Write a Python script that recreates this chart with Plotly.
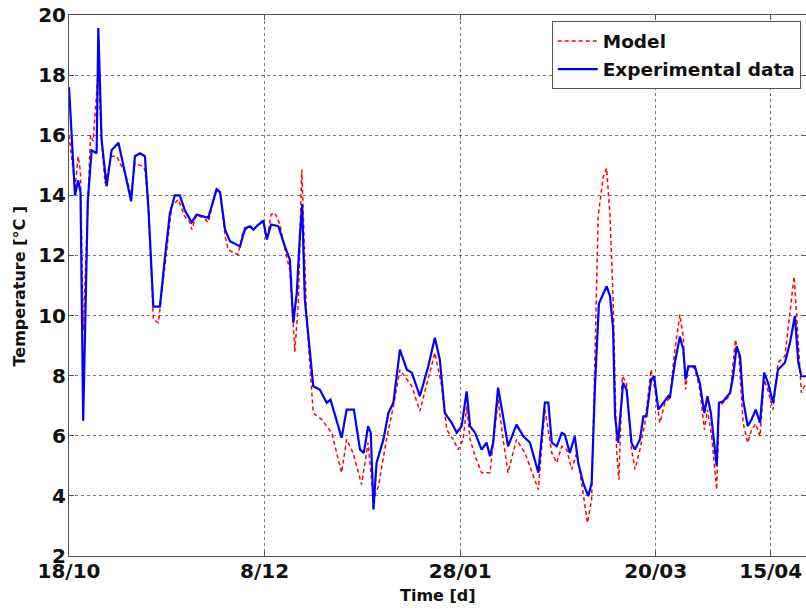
import plotly.graph_objects as go

# ---- data ----
days_exp = [0, 1.56, 2.4, 3.0, 3.7, 4.9, 5.9, 7.2, 7.65, 8.5, 9.8, 11.1, 12.9, 14.6, 16.2, 17.2,
            18.5, 19.8, 20.7, 22.0, 23.7, 25.0, 26.3, 27.6, 28.9, 30.2, 31.6, 32.0, 33.3, 35.0,
            36.3, 38.5, 39.4, 40.7, 42.0, 43.7, 44.6, 45.9, 47.2, 48.1, 49.4, 50.7, 51.6, 52.7,
            54.6, 56.3, 57.6, 58.5, 59.4, 60.2, 60.8, 61.5, 62.8, 63.7, 65.4, 67.2, 68.2, 69.4,
            71.1, 72.4, 74.3, 75.9, 76.9, 78.0, 78.7, 79.4, 80.2, 82.0, 83.3, 84.6, 86.3, 88.1,
            89.4, 91.5, 93.7, 95.4, 96.7, 98.0, 99.8, 101.1, 102.4, 103.7, 104.6, 105.9, 107.6,
            108.9, 109.8, 110.6, 111.9, 113.2, 114.5, 116.7, 118.5, 120.2, 122.0, 122.4, 124.1,
            125.0, 125.9, 127.2, 128.5, 129.3, 130.6, 131.9, 132.8, 134.1, 135.4, 136.3, 137.2,
            138.2, 140.2, 141.1, 141.9, 142.4, 143.2, 144.5, 145.4, 146.7, 147.6, 148.9, 149.8,
            150.6, 151.8, 152.6, 153.7, 155.0, 156.3, 156.7, 158.0, 159.3, 160.2, 160.8, 161.5,
            163.2, 164.5, 165.7, 166.5, 167.4, 168.9, 169.5, 170.6, 172.4, 173.2, 174.1, 175.0,
            175.8, 177.0, 178.0, 179.1, 180.2, 181.3, 182.3, 183.6, 184.9, 186.7, 188.0, 189.3,
            190.2, 191.0, 192.2]
temp_exp = [17.6, 14.0, 14.5, 14.1, 6.5, 13.8, 15.5, 15.4, 19.57, 15.85, 14.3, 15.5, 15.75, 14.75,
            13.8, 15.3, 15.4, 15.3, 13.6, 10.3, 10.3, 11.9, 13.4, 14.0, 14.0, 13.5, 13.2, 13.1,
            13.36, 13.3, 13.25, 14.2, 14.1, 12.86, 12.47, 12.36, 12.3, 12.9, 12.97, 12.86, 13.03,
            13.14, 12.53, 13.03, 12.97, 12.3, 11.86, 9.76, 10.76, 12.64, 13.7, 10.53, 8.87, 7.65,
            7.54, 7.1, 7.2, 6.7, 5.93, 6.87, 6.87, 5.54, 5.43, 6.32, 6.1, 3.55, 5.1, 5.88, 6.76,
            7.1, 8.87, 8.2, 8.1, 7.32, 8.31, 9.26, 8.54, 6.76, 6.43, 6.1, 6.32, 7.48, 6.32, 6.1,
            5.54, 5.77, 5.32, 5.77, 7.6, 6.65, 5.65, 6.37, 5.98, 5.77, 4.88, 4.77, 7.1, 7.1, 5.77,
            5.65, 6.1, 6.04, 5.43, 5.98, 5.1, 4.43, 3.99, 4.43, 7.76, 10.4, 10.98, 10.64, 9.54,
            6.65, 5.77, 7.76, 7.54, 5.77, 5.54, 5.88, 6.65, 6.65, 7.87, 7.98, 6.87, 7.1, 7.32,
            7.26, 8.43, 9.3, 8.87, 7.87, 8.31, 8.31, 7.76, 6.76, 7.32, 6.76, 4.99, 7.1, 7.15, 7.43,
            7.98, 8.98, 8.65, 7.2, 6.32, 6.54, 6.87, 6.43, 8.1, 7.76, 7.1, 8.2, 8.43, 9.09, 9.98,
            8.43, 7.98, 7.98]

days_model = [0, 1.0, 1.6, 2.4, 3.0, 3.7, 4.9, 5.6, 6.3, 7.65, 8.5, 9.4, 11.1, 12.4, 14.6, 16.2,
              17.2, 19.0, 19.8, 20.7, 22.0, 23.3, 25.0, 26.8, 28.5, 30.2, 31.6, 32.0, 33.3, 35.5,
              36.3, 38.5, 39.4, 40.7, 41.5, 42.8, 44.1, 45.4, 47.2, 48.1, 49.4, 50.7, 51.6, 52.7,
              53.7, 55.0, 56.3, 57.6, 58.9, 59.8, 60.7, 62.0, 63.7, 65.9, 68.5, 71.1, 72.4, 74.1,
              76.3, 78.0, 79.4, 80.7, 82.8, 84.6, 86.3, 88.1, 89.4, 91.5, 93.7, 95.4, 97.2, 98.5,
              100.2, 101.5, 102.8, 103.7, 104.6, 105.9, 107.6, 109.8, 111.9, 113.2, 114.5, 116.7,
              118.9, 121.1, 122.4, 124.1, 125.9, 127.2, 128.5, 129.8, 131.1, 132.4, 133.7, 135.2,
              136.3, 137.2, 138.0, 139.3, 140.2, 141.1, 141.9, 142.8, 143.4, 144.3, 145.4, 146.7,
              147.6, 148.9, 150.2, 151.8, 152.8, 154.1, 155.4, 156.7, 158.0, 159.3, 160.2, 160.8,
              161.5, 163.2, 164.5, 165.7, 166.5, 167.6, 168.9, 169.5, 170.6, 172.4, 173.2, 173.8,
              174.7, 175.8, 177.0, 178.0, 179.1, 180.2, 181.3, 182.3, 183.6, 184.9, 186.7, 188.0,
              189.1, 190.2, 191.0, 192.2]
temp_model = [16.0, 15.0, 14.3, 15.3, 14.8, 9.5, 13.8, 16.0, 15.8, 18.2, 15.85, 14.4, 15.3, 15.3,
              14.75, 14.0, 15.08, 14.97, 14.86, 13.6, 9.87, 9.76, 11.64, 13.64, 13.86, 13.3, 13.08,
              12.86, 13.36, 13.2, 13.1, 14.25, 14.1, 12.64, 12.2, 12.09, 12.03, 12.8, 12.97, 12.86,
              13.03, 13.2, 12.53, 13.36, 13.42, 13.03, 12.2, 11.5, 8.8, 10.4, 14.86, 9.87, 6.76,
              6.54, 6.1, 4.77, 5.88, 5.43, 4.38, 5.77, 3.88, 4.32, 5.88, 6.98, 8.2, 7.87, 7.65,
              6.82, 7.87, 8.76, 7.65, 6.2, 5.88, 5.54, 5.88, 6.98, 5.88, 5.32, 4.77, 4.77, 7.2,
              5.88, 4.77, 5.88, 5.43, 4.65, 4.21, 6.9, 5.43, 5.1, 5.65, 5.54, 4.88, 5.43, 4.43,
              3.1, 3.88, 8.87, 13.3, 14.6, 14.9, 13.3, 10.53, 5.54, 4.54, 7.98, 7.76, 5.54, 4.88,
              5.54, 6.43, 8.2, 7.54, 6.43, 7.1, 7.26, 8.87, 10.03, 9.3, 7.54, 8.26, 8.26, 7.54,
              6.2, 6.87, 5.98, 4.21, 6.98, 7.1, 7.35, 8.43, 9.2, 8.65, 6.43, 5.77, 6.2, 6.4, 5.98,
              7.87, 7.5, 6.87, 8.43, 8.65, 10.09, 11.3, 9.09, 7.43, 7.76]

tick_days = [0, 51, 102, 153, 183]
tick_labels = ["18/10", "8/12", "28/01", "20/03", "15/04"]
y_ticks = [2, 4, 6, 8, 10, 12, 14, 16, 18, 20]

FONT = "DejaVu Sans"

fig = go.Figure()
fig.add_trace(go.Scatter(x=days_model, y=temp_model, mode="lines", name="Model",
                         legendgroup="m",
                         line=dict(color="#ff0000", width=1.5, dash="4px,3px")))
fig.add_trace(go.Scatter(x=days_exp, y=temp_exp, mode="lines", name="Experimental data",
                         legendgroup="e",
                         line=dict(color="#0000ff", width=2.2)))

axis_common = dict(showline=True, linecolor="#555555", linewidth=1, mirror="ticks",
                   ticks="inside", ticklen=5, tickcolor="#555555",
                   showgrid=True, gridcolor="rgba(0,0,0,0.55)", gridwidth=1, griddash="dot",
                   zeroline=False,
                   tickfont=dict(family=FONT, size=20, color="#111111", weight="bold"))

fig.update_xaxes(range=[0, 192.2], tickvals=tick_days, ticktext=tick_labels,
                 ticklabelstandoff=-3, **axis_common)
fig.update_yaxes(range=[2, 20], tickvals=y_ticks, ticklabelstandoff=-2, **axis_common)

title_font = dict(family=FONT, size=16, color="#111111", weight="bold")
fig.update_layout(
    width=806, height=609,
    margin=dict(l=69, r=0, t=15, b=53),
    paper_bgcolor="white", plot_bgcolor="white",
    showlegend=True,
    legend=dict(x=0.655, y=0.988, xanchor="left", yanchor="top",
                bgcolor="white", bordercolor="#555555", borderwidth=1,
                font=dict(family=FONT, size=18.5, color="#111111", weight="bold"),
                itemwidth=40, tracegroupgap=1),
    annotations=[
        dict(text="Time [d]", xref="paper", yref="paper", x=0.5, y=-0.073,
             xanchor="center", yanchor="middle", showarrow=False, font=title_font),
        dict(text="Temperature [°C ]", xref="paper", yref="paper", x=-0.0665, y=0.5,
             xanchor="center", yanchor="middle", textangle=-90, showarrow=False, font=title_font),
    ],
)

fig.write_html("out.html", config={"displayModeBar": False},
               post_script="document.body.style.margin='0';document.body.style.padding='0';")
